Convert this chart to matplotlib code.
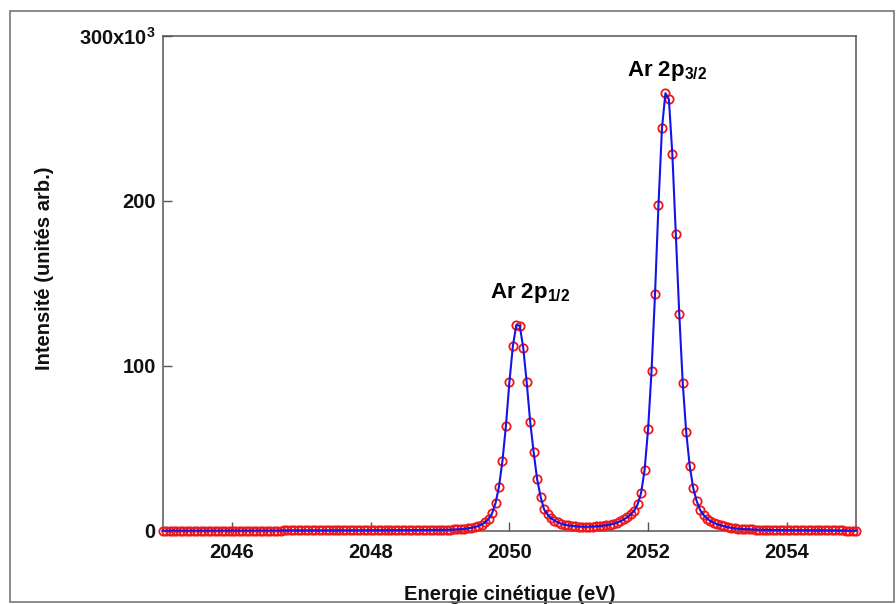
import matplotlib
matplotlib.use('Agg')
import matplotlib.pyplot as plt
from matplotlib.patches import Rectangle

plt.rcParams['font.family'] = ['Liberation Sans', 'DejaVu Sans']
plt.rcParams['font.weight'] = 'bold'
plt.rcParams['mathtext.fontset'] = 'custom'
plt.rcParams['mathtext.rm'] = 'Liberation Sans:bold'
plt.rcParams['mathtext.it'] = 'Liberation Sans:bold'
plt.rcParams['mathtext.bf'] = 'Liberation Sans:bold'

# kinetic energy (eV), one point every 0.05 eV
energy = [
    2045.00, 2045.05, 2045.10, 2045.15, 2045.20, 2045.25, 2045.30, 2045.35, 2045.40, 2045.45,
    2045.50, 2045.55, 2045.60, 2045.65, 2045.70, 2045.75, 2045.80, 2045.85, 2045.90, 2045.95,
    2046.00, 2046.05, 2046.10, 2046.15, 2046.20, 2046.25, 2046.30, 2046.35, 2046.40, 2046.45,
    2046.50, 2046.55, 2046.60, 2046.65, 2046.70, 2046.75, 2046.80, 2046.85, 2046.90, 2046.95,
    2047.00, 2047.05, 2047.10, 2047.15, 2047.20, 2047.25, 2047.30, 2047.35, 2047.40, 2047.45,
    2047.50, 2047.55, 2047.60, 2047.65, 2047.70, 2047.75, 2047.80, 2047.85, 2047.90, 2047.95,
    2048.00, 2048.05, 2048.10, 2048.15, 2048.20, 2048.25, 2048.30, 2048.35, 2048.40, 2048.45,
    2048.50, 2048.55, 2048.60, 2048.65, 2048.70, 2048.75, 2048.80, 2048.85, 2048.90, 2048.95,
    2049.00, 2049.05, 2049.10, 2049.15, 2049.20, 2049.25, 2049.30, 2049.35, 2049.40, 2049.45,
    2049.50, 2049.55, 2049.60, 2049.65, 2049.70, 2049.75, 2049.80, 2049.85, 2049.90, 2049.95,
    2050.00, 2050.05, 2050.10, 2050.15, 2050.20, 2050.25, 2050.30, 2050.35, 2050.40, 2050.45,
    2050.50, 2050.55, 2050.60, 2050.65, 2050.70, 2050.75, 2050.80, 2050.85, 2050.90, 2050.95,
    2051.00, 2051.05, 2051.10, 2051.15, 2051.20, 2051.25, 2051.30, 2051.35, 2051.40, 2051.45,
    2051.50, 2051.55, 2051.60, 2051.65, 2051.70, 2051.75, 2051.80, 2051.85, 2051.90, 2051.95,
    2052.00, 2052.05, 2052.10, 2052.15, 2052.20, 2052.25, 2052.30, 2052.35, 2052.40, 2052.45,
    2052.50, 2052.55, 2052.60, 2052.65, 2052.70, 2052.75, 2052.80, 2052.85, 2052.90, 2052.95,
    2053.00, 2053.05, 2053.10, 2053.15, 2053.20, 2053.25, 2053.30, 2053.35, 2053.40, 2053.45,
    2053.50, 2053.55, 2053.60, 2053.65, 2053.70, 2053.75, 2053.80, 2053.85, 2053.90, 2053.95,
    2054.00, 2054.05, 2054.10, 2054.15, 2054.20, 2054.25, 2054.30, 2054.35, 2054.40, 2054.45,
    2054.50, 2054.55, 2054.60, 2054.65, 2054.70, 2054.75, 2054.80, 2054.85, 2054.90, 2054.95,
    2055.00,
]

# intensity in units of 10^3
intensity = [
    0.2, 0.2, 0.2, 0.2, 0.2, 0.2, 0.2, 0.2, 0.2, 0.2,
    0.2, 0.2, 0.2, 0.2, 0.2, 0.2, 0.2, 0.2, 0.2, 0.2,
    0.2, 0.2, 0.2, 0.25, 0.25, 0.25, 0.25, 0.25, 0.25, 0.25,
    0.25, 0.25, 0.25, 0.25, 0.25, 0.3, 0.3, 0.3, 0.3, 0.3,
    0.3, 0.3, 0.3, 0.3, 0.3, 0.3, 0.3, 0.3, 0.3, 0.3,
    0.3, 0.3, 0.3, 0.35, 0.35, 0.35, 0.35, 0.35, 0.35, 0.4,
    0.4, 0.4, 0.4, 0.4, 0.45, 0.45, 0.45, 0.45, 0.5, 0.5,
    0.5, 0.5, 0.55, 0.55, 0.55, 0.6, 0.6, 0.6, 0.65, 0.65,
    0.6, 0.65, 0.7, 0.8, 0.9, 1.0, 1.1, 1.3, 1.6, 1.9,
    2.4, 3.0, 3.9, 5.2, 7.3, 10.7, 16.8, 26.8, 42.4, 63.6,
    90.0, 112.0, 124.8, 124.4, 111.0, 90.0, 66.2, 47.7, 31.5, 20.8,
    13.1, 10.0, 7.8, 6.3, 5.2, 4.4, 3.8, 3.4, 3.1, 2.9,
    2.7, 2.6, 2.6, 2.6, 2.7, 2.8, 3.0, 3.2, 3.5, 3.9,
    4.4, 5.0, 5.9, 7.0, 8.3, 10.0, 12.3, 16.2, 23.2, 37.0,
    61.6, 97.0, 143.5, 197.6, 244.0, 265.3, 261.6, 228.3, 179.8, 131.3,
    89.5, 59.8, 39.6, 26.2, 18.2, 12.7, 9.7, 7.5, 6.0, 4.9,
    4.0, 3.4, 2.8, 2.3, 1.9, 1.6, 1.4, 1.2, 1.1, 1.0,
    0.9, 0.8, 0.75, 0.7, 0.65, 0.6, 0.55, 0.55, 0.5, 0.5,
    0.45, 0.45, 0.45, 0.4, 0.4, 0.4, 0.4, 0.35, 0.35, 0.35,
    0.35, 0.3, 0.3, 0.3, 0.3, 0.3, 0.3, 0.25, 0.25, 0.25,
    0.25,
]

x_ticks = [2046, 2048, 2050, 2052, 2054]
y_ticks = [0, 100, 200, 300]
y_tick_labels = ['0', '100', '200', r'300x10$^3$']
peak_labels = [r'Ar 2p$_{1/2}$', r'Ar 2p$_{3/2}$']

fig = plt.figure(figsize=(8.96, 6.04), dpi=100)
ax = fig.add_axes([0.1815, 0.1209, 0.774, 0.8195])

ax.plot(energy, intensity, 'o', mfc='none', mec='#f01818', ms=6.0, mew=1.3,
        clip_on=False, zorder=3)
ax.plot(energy, intensity, '-', color='#1414e6', lw=1.5, clip_on=False, zorder=4)

ax.set_xlim(2045, 2055)
ax.set_ylim(0, 300)
ax.set_xticks(x_ticks)
ax.set_yticks(y_ticks)
ax.set_yticklabels(y_tick_labels)

for s in ax.spines.values():
    s.set_color('#555555')
    s.set_linewidth(1.1)
ax.tick_params(direction='in', length=6.5, width=1.0, color='#555555',
               labelsize=14.5, labelcolor='#111111')
ax.tick_params(axis='x', pad=8.5)
ax.tick_params(axis='y', pad=5)

ax.set_xlabel('Energie cinétique (eV)', fontsize=14.5, fontweight='bold', color='#111111')
ax.set_ylabel('Intensité (unités arb.)', fontsize=14.5, fontweight='bold', color='#111111')
ax.xaxis.set_label_coords(0.5, -0.109)
ax.yaxis.set_label_coords(-0.156, 0.531)

# peak labels
ax.text(2049.72, 141, peak_labels[0], fontsize=16, fontweight='bold', va='baseline')
ax.text(2051.69, 276, peak_labels[1], fontsize=16, fontweight='bold', va='baseline')

# grey frame round the whole picture
fig.patches.append(Rectangle((10 / 896, 2 / 604), 884 / 896, 591 / 604,
                             transform=fig.transFigure, fill=False,
                             ec='#777777', lw=1.2))

fig.savefig('out.png', dpi=100)
